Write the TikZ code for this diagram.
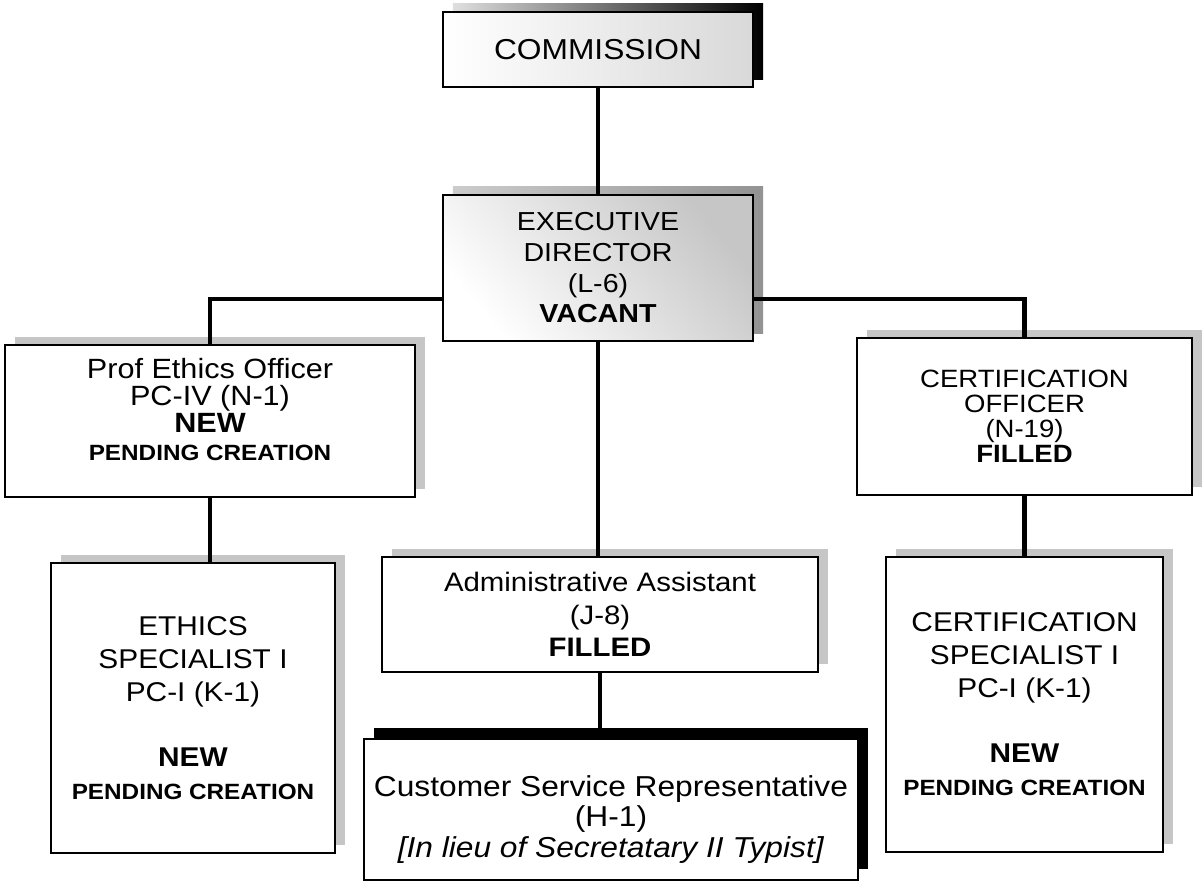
\documentclass[tikz,border=0pt]{standalone}
\usepackage{fontspec}
\setmainfont[FakeStretch=1.1]{Liberation Sans}
\usetikzlibrary{shadows}

\tikzset{
  post/.style={draw, line width=1.3pt, fill=white, align=center, inner sep=0pt},
  greyshadow/.style={drop shadow={shadow xshift=0.25cm, shadow yshift=0.2cm, fill=gray!45, opacity=1}},
  blackshadow/.style={drop shadow={shadow xshift=0.25cm, shadow yshift=0.27cm, fill=black, opacity=1}},
  link/.style={line width=3.2pt},
}

\begin{document}
\begin{tikzpicture}[x=0.025cm, y=-0.025cm]
    \useasboundingbox (0,0) rectangle (1204,883);

    \node[post, minimum width=7.75cm, minimum height=1.875cm, font=\fontsize{20.5}{24}\selectfont,
        drop shadow={shadow xshift=0.25cm, shadow yshift=0.2cm, left color=gray!25, right color=black, opacity=1},
        left color=white, right color=gray!30] (comm) at (598,49.5) {COMMISSION};
    \node[post, minimum width=7.75cm, minimum height=3.65cm, font=\fontsize{18.5}{21.8}\selectfont,
        drop shadow={shadow xshift=0.25cm, shadow yshift=0.2cm, left color=gray!40, right color=gray!85, opacity=1},
        top color=gray!45, bottom color=white, shading angle=-50] (exec) at (598,268)
        {EXECUTIVE\\DIRECTOR\\(L-6)\\\textbf{VACANT}};

    % second row
    \node[post, greyshadow, minimum width=10.25cm, minimum height=3.8cm, font=\fontsize{19.8}{19.5}\selectfont] (ethof) at (210,421)
        {Prof Ethics Officer\\PC-IV (N-1)\\\textbf{NEW}\\{\fontsize{15.7}{18}\selectfont\bfseries PENDING CREATION}\\[-2.5pt]\mbox{}};
    \node[post, greyshadow, minimum width=8.375cm, minimum height=3.925cm, font=\fontsize{17.8}{17.8}\selectfont] (certof) at (1024.5,416.5)
        {CERTIFICATION\\OFFICER\\(N-19)\\\textbf{FILLED}};

    % third row
    \node[post, greyshadow, minimum width=7.1cm, minimum height=7.25cm, font=\fontsize{19.3}{23.5}\selectfont] (ethsp) at (193,708)
        {ETHICS\\SPECIALIST I\\PC-I (K-1)\\[0.8cm]\textbf{NEW}\\{\fontsize{15.7}{18}\selectfont\bfseries PENDING CREATION}};
    \node[post, greyshadow, minimum width=10.9cm, minimum height=2.875cm, font=\fontsize{19}{23}\selectfont] (admin) at (600,614.5)
        {Administrative Assistant\\(J-8)\\\textbf{FILLED}};
    \node[post, greyshadow, minimum width=6.925cm, minimum height=7.375cm, font=\fontsize{19.3}{23.5}\selectfont] (certsp) at (1024.5,704.5)
        {CERTIFICATION\\SPECIALIST I\\PC-I (K-1)\\[0.8cm]\textbf{NEW}\\{\fontsize{15.7}{18}\selectfont\bfseries PENDING CREATION}};
    \node[post, blackshadow, minimum width=12.35cm, minimum height=3.525cm, font=\fontsize{20.5}{21.5}\selectfont] (csr) at (611,809.5)
        {\mbox{}\\[7.5pt]Customer Service Representative\\(H-1)\\\textit{[In lieu of Secretatary II Typist]}};

    \coordinate (split) at (598,299); % branch level

    \draw[link] (comm) -- (exec);
    \draw[link] (exec.west |- split) -| (ethof.north);
    \draw[link] (exec.east |- split) -| (certof.north);
    \draw[link] (exec.south) -- (exec.south |- admin.north);
    \draw[link] (ethof.south) -- (ethof.south |- ethsp.north);
    \draw[link] (certof.south) -- (certof.south |- certsp.north);
    \draw[link] (admin.south) -- (admin.south |- csr.north);
\end{tikzpicture}
\end{document}
